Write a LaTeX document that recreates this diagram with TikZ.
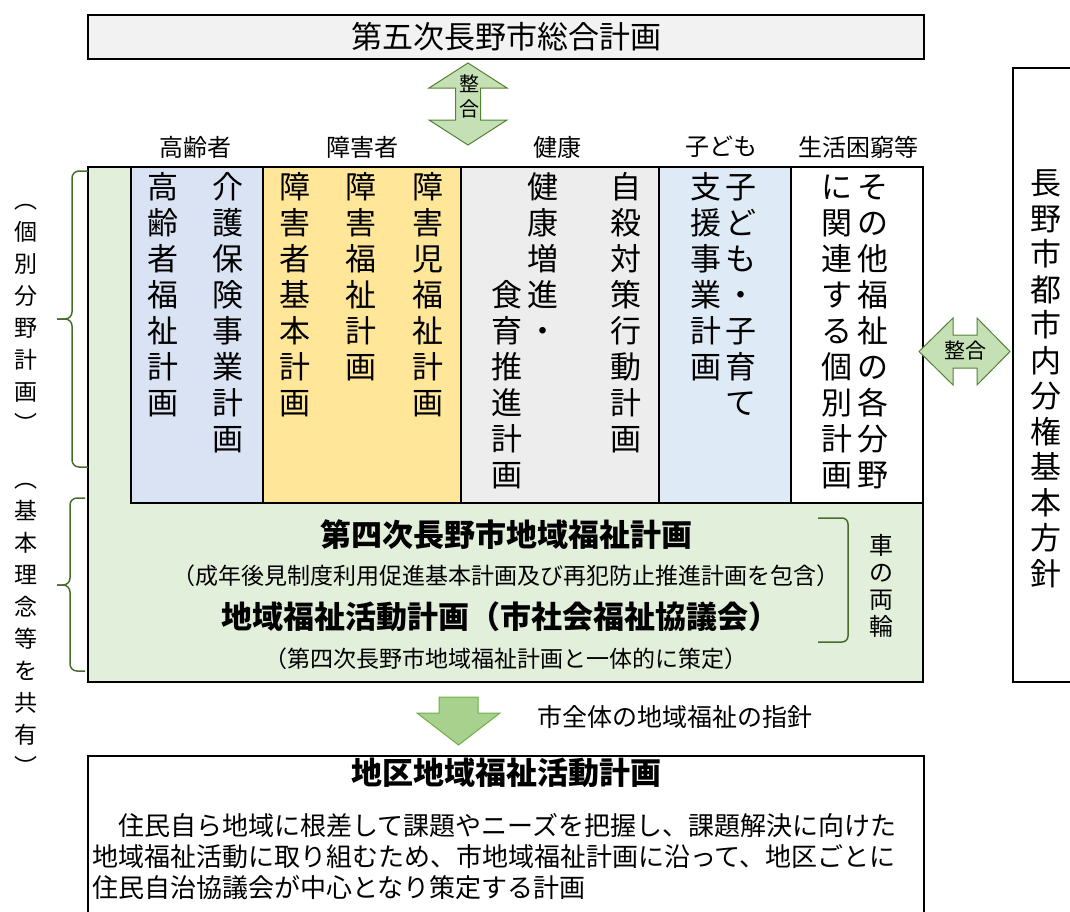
\documentclass[tikz,border=0pt]{standalone}
\usepackage{fontspec}
\setmainfont{Noto Sans CJK JP}
\usepackage{tikz}
\usetikzlibrary{positioning}

\definecolor{titlegray}{HTML}{F2F2F2}
\definecolor{basegreen}{HTML}{E2EFDA}
\definecolor{koreiblue}{HTML}{DAE3F3}
\definecolor{shogaiyellow}{HTML}{FFE699}
\definecolor{kenkogray}{HTML}{EDEDED}
\definecolor{kodomoblue}{HTML}{DEEBF7}
\definecolor{arrowgreen}{HTML}{C5E0B4}
\definecolor{arrowdark}{HTML}{548235}
\definecolor{downgreen}{HTML}{A9D18E}
\definecolor{downdark}{HTML}{70AD47}
\definecolor{bracegreen}{HTML}{466D2D}

\newcommand\tate[1]{\vbox{\lineskiplimit=-\maxdimen\tateaux#1\relax}}
\def\tateaux#1{\ifx#1\relax\else
  \hbox to 1em{\hss\vrule height .88em depth .12em width 0pt#1\hss}%
  \expandafter\tateaux\fi}

\begin{document}
\begin{tikzpicture}[x=1pt,y=-1pt]

  \tikzstyle{box}=[rectangle,draw,line width=1.5pt,inner sep=0pt,outer sep=0pt,anchor=north west]
  \tikzstyle{col}=[box,minimum height=336]
  \tikzstyle{head}=[font=\fontsize{24}{28}\selectfont]
  \tikzstyle{tate}=[anchor=north,inner sep=0pt,font=\fontsize{31}{36}\selectfont]
  \tikzstyle{side}=[anchor=north,inner sep=0pt,font=\fontsize{23}{32}\selectfont]
  \tikzstyle{big}=[font=\bfseries\fontsize{31}{36}\selectfont]
  \tikzstyle{note}=[font=\fontsize{23}{28}\selectfont]
  \tikzstyle{blockarrow}=[draw=arrowdark,fill=arrowgreen,line width=1pt]
  \tikzstyle{brace}=[draw=bracegreen,line width=1.5pt,rounded corners=7pt]

  \useasboundingbox (0,0) rectangle (1070,911);

  \node[box,fill=titlegray,minimum width=836,minimum height=44,
        font=\fontsize{31}{36}\selectfont] (SG) at (88,15) {第五次長野市総合計画};

  \draw[blockarrow] (468,63) -- (507,88) -- (480.5,88) -- (480.5,120) -- (507,120)
    -- (468,145) -- (429,120) -- (455.5,120) -- (455.5,88) -- (429,88) -- cycle;
  \node[anchor=north,inner sep=0pt,font=\fontsize{20}{25}\selectfont] (SGS) at (469,74) {\tate{整合}};

  \node[head] (H1) at (195,147) {高齢者};
  \node[head] (H2) at (362,147) {障害者};
  \node[head] (H3) at (557,147) {健康};
  \node[head] (H4) at (721,147) {子ども};
  \node[head] (H5) at (858,147) {生活困窮等};

  \node[box,fill=basegreen,minimum width=835,minimum height=515] (KF) at (88,167) {};
  \node[col,fill=koreiblue,minimum width=132] (C1) at (131,167) {};
  \node[col,fill=shogaiyellow,minimum width=198,right=0pt of C1] (C2) {};
  \node[col,fill=kenkogray,minimum width=198,right=0pt of C2] (C3) {};
  \node[col,fill=kodomoblue,minimum width=132,right=0pt of C3] (C4) {};
  \node[col,fill=white,minimum width=132,right=0pt of C4] (C5) {};
  \draw[line width=2.5pt] (C1.north west) rectangle (C5.south east);

  \node[tate] (K1) at (163,171.5) {\tate{高齢者福祉計画}};
  \node[tate] (K2) at (228,171.5) {\tate{介護保険事業計画}};
  \node[tate] (S1) at (295,171.5) {\tate{障害者基本計画}};
  \node[tate] (S2) at (361,171.5) {\tate{障害福祉計画}};
  \node[tate] (S3) at (428,171.5) {\tate{障害児福祉計画}};
  \node[tate] (E1) at (543,171.5) {\tate{健康増進・}};
  \node[tate] (E2) at (507,279.5) {\tate{食育推進計画}};
  \node[tate] (E3) at (626,171.5) {\tate{自殺対策行動計画}};
  \node[tate] (D1) at (741,171.5) {\tate{子ども・子育て}};
  \node[tate] (D2) at (706,171.5) {\tate{支援事業計画}};
  \node[tate] (T1) at (873,171.5) {\tate{その他福祉の各分野}};
  \node[tate] (T2) at (837,171.5) {\tate{に関連する個別計画}};

  \node[box,fill=white,minimum width=80,minimum height=614] (BU) at (1013,68) {};
  \node[tate,font=\fontsize{31}{35.5}\selectfont] (BUT) at (1046,167.5) {\tate{長野市都市内分権基本方針}};

  \draw[blockarrow] (919,351.5) -- (953,318) -- (953,335) -- (977,335) -- (977,318)
    -- (1010,351.5) -- (977,385) -- (977,368) -- (953,368) -- (953,385) -- cycle;
  \node[font=\fontsize{21}{25}\selectfont] (BUS) at (965,351) {整合};

  \draw[brace] (88,171) -- (72,171) -- (72,319) -- (57,319);
  \draw[brace] (57,319) -- (72,319) -- (72,467) -- (88,467);
  \draw[brace] (85,498) -- (70,498) -- (70,585) -- (57,585);
  \draw[brace] (57,585) -- (70,585) -- (70,671) -- (85,671);
  \node[side] (L1) at (26,188.5) {\tate{︵個別分野計画︶}};
  \node[side] (L2) at (26,467.5) {\tate{︵基本理念等を共有︶}};

  \node[big] (DY) at (506,535) {第四次長野市地域福祉計画};
  \node[note] (DYS) at (506,576) {（成年後見制度利用促進基本計画及び再犯防止推進計画を包含）};
  \node[big] (KK) at (500,617) {地域福祉活動計画（市社会福祉協議会）};
  \node[note] (KKS) at (506,659) {（第四次長野市地域福祉計画と一体的に策定）};
  \draw[brace,rounded corners=6pt] (818,518) -- (848,518) -- (848,642) -- (818,642);
  \node[side,font=\fontsize{24}{27}\selectfont] (RR) at (881,533) {\tate{車の両輪}};

  \draw[blockarrow,draw=downdark,fill=downgreen] (439,697) -- (478,697) -- (478,713)
    -- (500,713) -- (458.5,745) -- (417,713) -- (439,713) -- cycle;
  \node[font=\fontsize{25}{30}\selectfont] (SN) at (675,717) {市全体の地域福祉の指針};

  \node[box,minimum width=836,minimum height=170] (CK) at (88,756) {};
  \node[big] (CKT) at (506,773) {地区地域福祉活動計画};
  \node[anchor=north west,align=left,inner sep=0pt,font=\fontsize{26}{31}\selectfont] (CKB) at (92,813)
    {　住民自ら地域に根差して課題やニーズを把握し、課題解決に向けた\\
     地域福祉活動に取り組むため、市地域福祉計画に沿って、地区ごとに\\
     住民自治協議会が中心となり策定する計画};
\end{tikzpicture}
\end{document}
